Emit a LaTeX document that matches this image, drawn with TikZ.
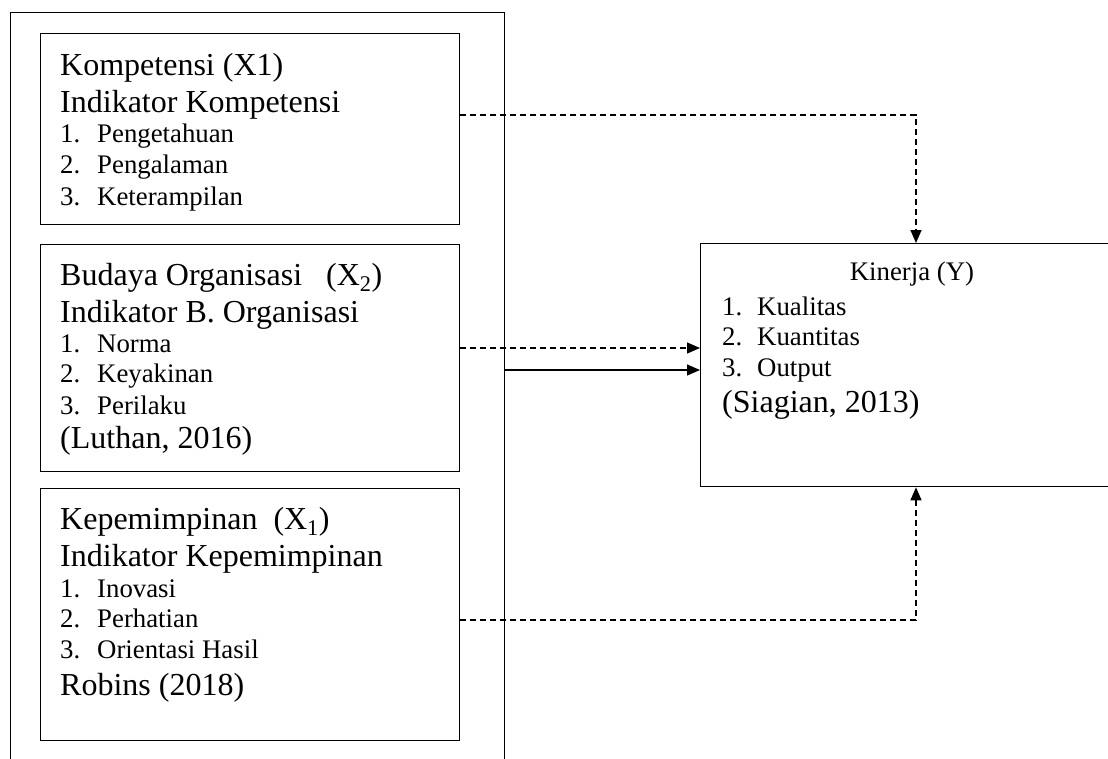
\documentclass[tikz,border=0pt]{standalone}
\usepackage{fontspec}
\setmainfont{Liberation Serif}
\usetikzlibrary{arrows.meta}

\begin{document}
\begin{tikzpicture}
	[x=1pt, y=-1pt,
	kotak/.style = {draw, line width=1.3pt, inner sep=0pt, anchor=north west},
	judulteks/.style = {anchor=base west, inner sep=0pt, font=\fontsize{32}{34}\selectfont},
	butirteks/.style = {anchor=base west, inner sep=0pt, font=\fontsize{26.8}{30}\selectfont},
	panah/.style = {line width=1.3pt, -{Triangle[length=13pt,width=11pt]}},
	putus/.style = {panah, dash pattern=on 6pt off 4pt}]
	\useasboundingbox (0,0) rectangle (1108,758);
	\clip (0,0) rectangle (1108,758);
	% kerangka luar (terpotong di bawah)
	\node[kotak, minimum width=494pt, minimum height=800pt] (luar) at (10,12) {};
	% variabel bebas
	\node[kotak, minimum width=419pt, minimum height=191pt] (komp) at (40,33) {};
	\node[kotak, minimum width=419pt, minimum height=227pt] (budaya) at (40,244) {};
	\node[kotak, minimum width=419pt, minimum height=252pt] (pimpin) at (40,488) {};
	% variabel terikat (terpotong di kanan)
	\node[kotak, minimum width=440pt, minimum height=243pt] (kinerja) at (700,243) {};

	% Kompetensi
	\node[judulteks] (komp-judul) at (60,75) {Kompetensi (X1)};
	\node[judulteks] (komp-ind) at (60,112) {Indikator Kompetensi};
	\foreach \n/\y/\teks in {1/142/Pengetahuan, 2/173/Pengalaman, 3/205/Keterampilan} {
		\node[butirteks] (komp-no\n) at (60,\y) {\n.};
		\node[butirteks] (komp-isi\n) at (97,\y) {\teks};
	}
	% Budaya organisasi
	\node[judulteks] (budaya-judul) at (60,285) {Budaya Organisasi\ \ \ (X\textsubscript{2})};
	\node[judulteks] (budaya-ind) at (60,322) {Indikator B. Organisasi};
	\foreach \n/\y/\teks in {1/352/Norma, 2/382/Keyakinan, 3/414/Perilaku} {
		\node[butirteks] (budaya-no\n) at (60,\y) {\n.};
		\node[butirteks] (budaya-isi\n) at (97,\y) {\teks};
	}
	\node[judulteks] (budaya-sumber) at (60,448) {(Luthan, 2016)};
	% Kepemimpinan
	\node[judulteks] (pimpin-judul) at (60,529) {Kepemimpinan\ \ (X\textsubscript{1})};
	\node[judulteks] (pimpin-ind) at (60,566) {Indikator Kepemimpinan};
	\foreach \n/\y/\teks in {1/597/Inovasi, 2/627/Perhatian, 3/658/Orientasi Hasil} {
		\node[butirteks] (pimpin-no\n) at (60,\y) {\n.};
		\node[butirteks] (pimpin-isi\n) at (97,\y) {\teks};
	}
	\node[judulteks] (pimpin-sumber) at (60,695) {Robins (2018)};
	% Kinerja
	\node[butirteks, anchor=base] (kinerja-judul) at (912,280) {Kinerja (Y)};
	\foreach \n/\y/\teks in {1/315/Kualitas, 2/345/Kuantitas, 3/376/Output} {
		\node[butirteks] (kinerja-no\n) at (722,\y) {\n.};
		\node[butirteks] (kinerja-isi\n) at (757,\y) {\teks};
	}
	\node[judulteks] (kinerja-sumber) at (722,412) {(Siagian, 2013)};

	% hubungan
	\coordinate (belok1) at (916,115);
	\coordinate (belok2) at (916,620);
	\coordinate (garis1) at (0,348);
	\coordinate (garis2) at (0,370);
	\draw[putus] (komp.east |- belok1) -- (belok1) -- (belok1 |- kinerja.north);
	\draw[putus] (budaya.east |- garis1) -- (kinerja.west |- garis1);
	\draw[panah] (luar.east |- garis2) -- (kinerja.west |- garis2);
	\draw[putus] (pimpin.east |- belok2) -- (belok2) -- (belok2 |- kinerja.south);
\end{tikzpicture}
\end{document}
